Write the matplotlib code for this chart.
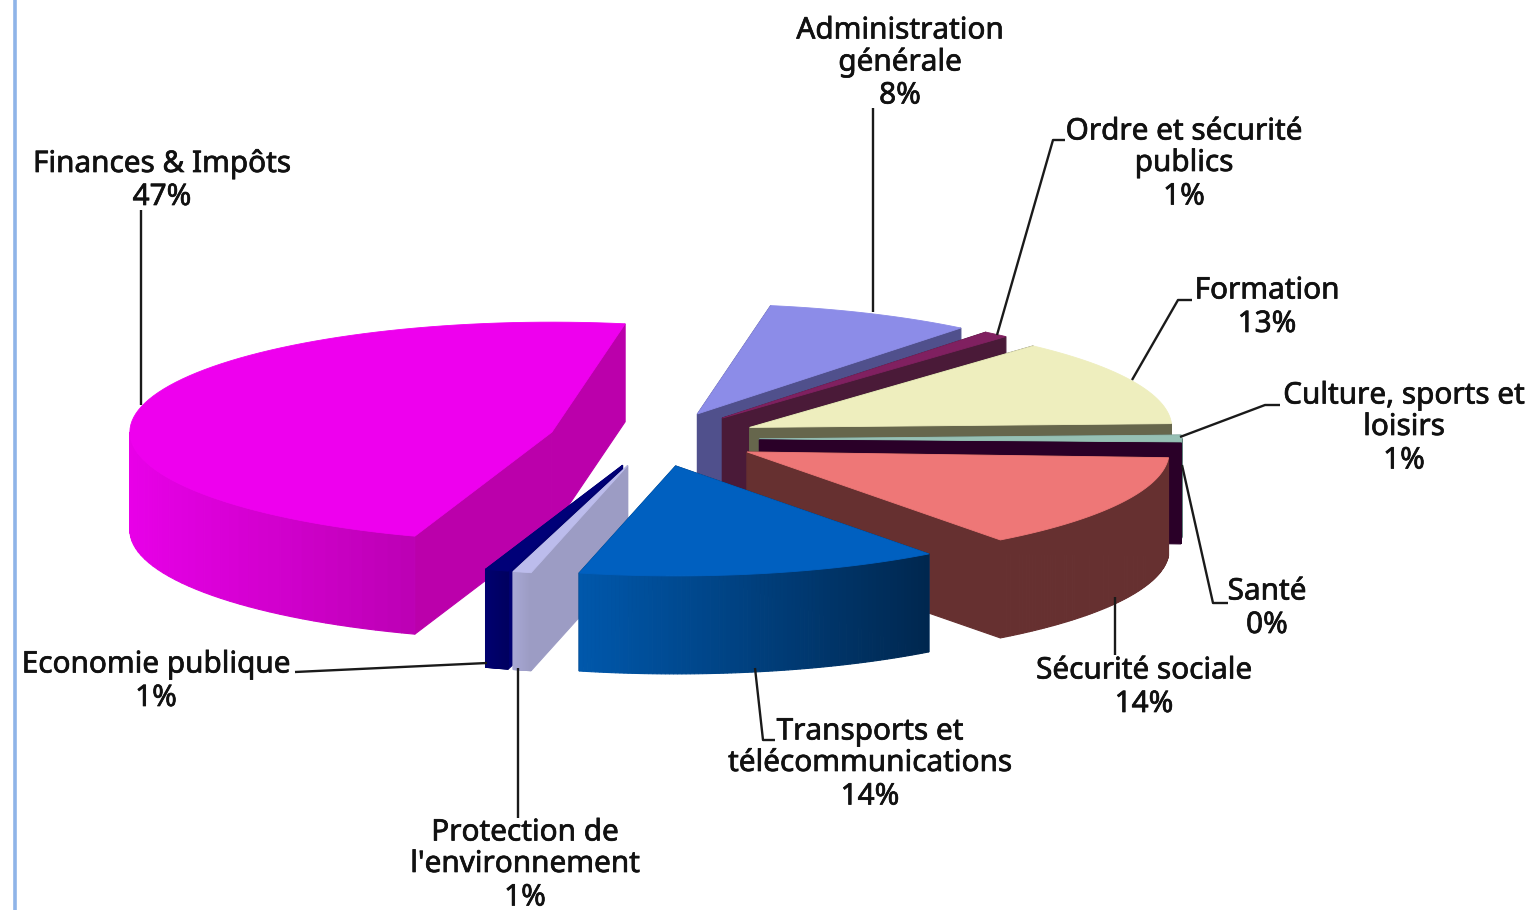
import numpy as np
import matplotlib
matplotlib.use("Agg")
import matplotlib.pyplot as plt
import matplotlib.patheffects as pe
from matplotlib.colors import to_rgb
from matplotlib.patches import Polygon

# Data, counter-clockwise from the Finances slice
names = ["Finances & Impôts", "Economie publique", "Protection de\nl'environnement",
         "Transports et\ntélécommunications", "Sécurité sociale", "Santé",
         "Culture, sports et\nloisirs", "Formation", "Ordre et sécurité\npublics",
         "Administration\ngénérale"]
values = [47.8, 0.9, 0.7, 14.0, 14.0, 0.4, 1.0, 12.8, 1.0, 8.0]
percent_labels = ["47%", "1%", "1%", "14%", "14%", "0%", "1%", "13%", "1%", "8%"]

# Style
top_col = ["#EE00EE", "#000078", "#BCBCEC", "#0060C0", "#EE7777", "#2A0028", "#96C0B4", "#EEEEBE", "#802060", "#8C8CE8"]
wall_l = ["#E800E8", "#000070", "#A8A8D4", "#0058AC", "#663030", "#2A0028", "#60807A", "#66664C", "#4A1A38", "#50508C"]
wall_r = ["#BC00B4", "#000060", "#9C9CC4", "#00274F", "#663030", "#2A0028", "#60807A", "#66664C", "#4A1A38", "#50508C"]
face_col = ["#BB00AB", "#000070", "#9C9CC4", "#00356C", "#663030", "#2A0028", "#60807A", "#66664C", "#4A1A38", "#50508C"]

# Layout (pixels)
CX, CY = 654, 439
RX, RY = 422, 110
EXPLODE, DEPTH = 0.25, 98
START = 80.0

label_xy = [(162, 164), (156, 665), (525, 833), (870, 732), (1144, 671),
            (1267, 592), (1404, 396), (1267, 291), (1184, 132), (900, 31)]
leaders = [[(141, 210), (141, 405)],
           [(295, 672), (487, 663)],
           [(518, 668), (518, 818)],
           [(775, 740), (763, 740), (755, 668)],
           [(1115, 597), (1115, 655)],
           [(1228, 603), (1213, 603), (1182, 465)],
           [(1280, 405), (1265, 405), (1180, 437)],
           [(1192, 300), (1178, 300), (1132, 380)],
           [(1065, 140), (1053, 140), (997, 335)],
           [(873, 108), (873, 312)]]

plt.rcParams["font.family"] = ["Noto Sans", "DejaVu Sans"]
fig = plt.figure(figsize=(15.34, 9.10), dpi=100, facecolor="white")
ax = fig.add_axes([0, 0, 1, 1])
ax.set_xlim(0, 1534)
ax.set_ylim(910, 0)
ax.axis("off")
ax.axvline(15, color="#8FB4E8", lw=2.6)

sweeps = np.array(values) / sum(values) * 360
starts = START + np.concatenate([[0], np.cumsum(sweeps)[:-1]])
mids = starts + sweeps / 2


def pt(t_deg, apex):
    t = np.radians(t_deg)
    return np.column_stack([apex[0] + RX * np.cos(t), apex[1] - RY * np.sin(t)])


for i in sorted(range(len(values)), key=lambda k: -np.sin(np.radians(mids[k]))):
    m = np.radians(mids[i])
    apex = (CX + EXPLODE * RX * np.cos(m), CY - EXPLODE * RY * np.sin(m))
    ts = np.linspace(starts[i], starts[i] + sweeps[i], 90)
    arc = pt(ts, apex)
    down = np.array([0, DEPTH])
    a = np.array(apex)
    # radial cut faces
    for end in (arc[0], arc[-1]):
        q = np.array([a, end, end + down, a + down])
        ax.add_patch(Polygon(q, fc=face_col[i], ec=face_col[i], lw=0.8, zorder=2))
    # outer wall, front part only, shaded left to right
    vis = np.sin(np.radians(ts)) < 0.02
    if vis.sum() > 1:
        xs = arc[vis, 0]
        cl, cr = np.array(to_rgb(wall_l[i])), np.array(to_rgb(wall_r[i]))
        span = max(xs.max() - xs.min(), 1)
        av = arc[vis]
        for p, r in zip(av[:-1], av[1:]):
            f = ((p[0] + r[0]) / 2 - xs.min()) / span
            c = cl + (cr - cl) * f
            ax.add_patch(Polygon([p, r, r + down, p + down], fc=c, ec=c, lw=0.8, zorder=2))
    ax.add_patch(Polygon(np.vstack([a, arc]), fc=top_col[i], ec=top_col[i], lw=0.6, zorder=2))

for line in leaders:
    xy = np.array(line)
    ax.plot(xy[:, 0], xy[:, 1], color="#1A1A1A", lw=1.7, zorder=3, solid_capstyle="butt")

for name, pct, (x, y) in zip(names, percent_labels, label_xy):
    parts = name.split("\n") + [pct]
    for k, s in enumerate(parts):
        yy = y + k * 31.5 + (2 if k == len(parts) - 1 else 0)
        ax.text(x, yy, s, ha="center", va="center", fontsize=21.4, color="#111111", zorder=4,
                path_effects=[pe.withStroke(linewidth=0.5, foreground="#111111")])

fig.savefig("out.png", dpi=100, facecolor="white")
